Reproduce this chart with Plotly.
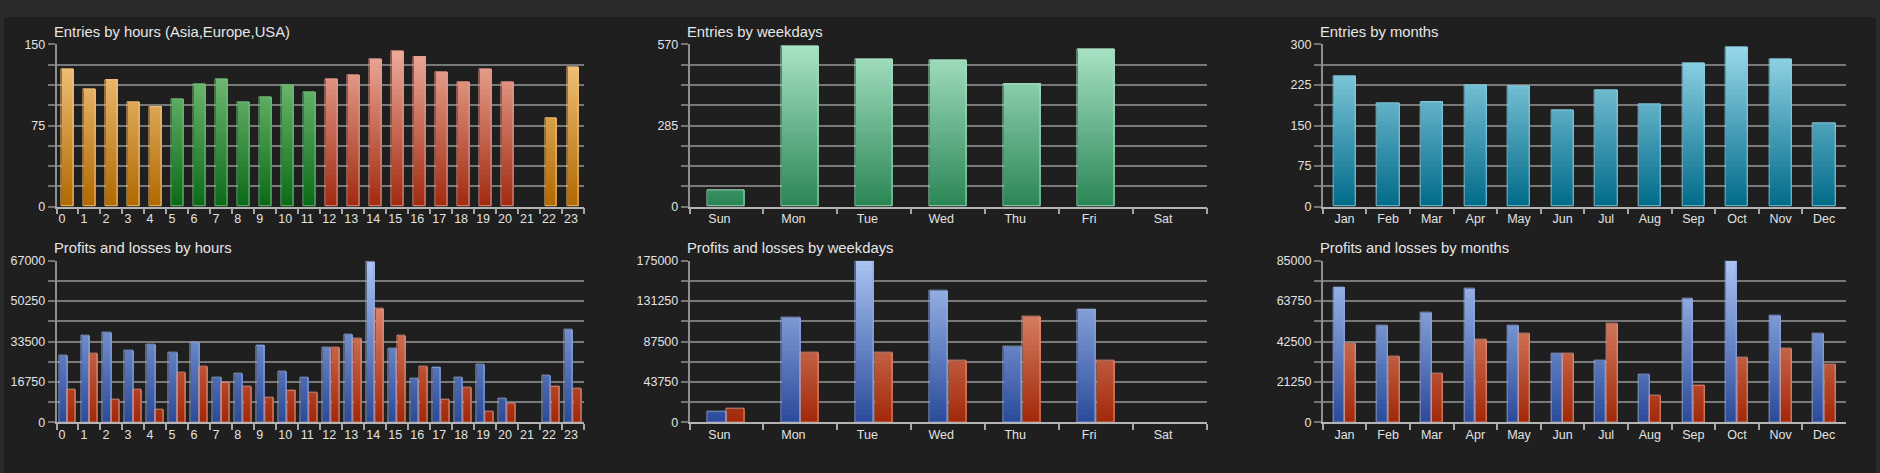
import plotly.graph_objects as go
from plotly.subplots import make_subplots

# ---- data ----
hour_labels = [f"{h}\u2007" if h < 10 else str(h) for h in range(24)]
hour_entries = [127, 108, 117, 96, 92, 99, 113, 118, 96, 101, 112, 106,
                118, 121, 136, 144, 138, 124, 115, 127, 115, 0, 82, 129]
hour_zone = (["asia"] * 5 + ["europe"] * 7 + ["usa"] * 9 + ["usa"] + ["asia"] * 2)
hour_entry_ticks = [0, 75, 150]

weekdays = ["Sun", "Mon", "Tue", "Wed", "Thu", "Fri", "Sat"]
weekday_entries = [58, 564, 517, 515, 430, 552, 0]
weekday_entry_ticks = [0, 285, 570]

months = ["Jan", "Feb", "Mar", "Apr", "May", "Jun",
          "Jul", "Aug", "Sep", "Oct", "Nov", "Dec"]
month_entries = [240, 191, 193, 224, 223, 179, 215, 190, 265, 295, 272, 154]
month_entry_ticks = [0, 75, 150, 225, 300]

hour_profits = [27500, 35800, 37000, 29500, 32000, 28700, 32900, 18400,
                20000, 31800, 21000, 18500, 30900, 36200, 66400, 30700,
                17900, 22800, 18400, 23700, 9700, 0, 19300, 38400]
hour_losses = [13400, 28400, 9300, 13500, 5100, 20400, 22900, 16400,
               14600, 10400, 13300, 12300, 30800, 34500, 47100, 36000,
               22900, 9300, 14500, 4600, 7600, 0, 14900, 14100]
hour_pl_ticks = [0, 16750, 33500, 50250, 67000]

weekday_profits = [11900, 112900, 174500, 142500, 81500, 122300, 0]
weekday_losses = [14400, 75800, 75800, 66400, 114700, 67100, 0]
weekday_pl_ticks = [0, 43750, 87500, 131250, 175000]

month_profits = [71000, 51000, 57500, 70500, 51000, 36100,
                 32400, 25100, 64900, 84800, 56300, 46800]
month_losses = [41200, 34700, 25600, 43300, 46400, 35900,
                51700, 13900, 19300, 34000, 38600, 30200]
month_pl_ticks = [0, 21250, 42500, 63750, 85000]

# gradient ramps (colour at axis bottom, colour at axis top)
RAMPS = {
    "asia": ("#b06800", "#f8cc88"),
    "europe": ("#0a6a18", "#88cc88"),
    "usa": ("#a02a10", "#f0b0a0"),
    "weekday": ("#2a8655", "#aae4c6"),
    "month": ("#006a88", "#9adaec"),
    "profit": ("#2a4a9a", "#aac4f2"),
    "loss": ("#a02808", "#f0a890"),
}
EDGES = {
    "asia": "#f2c27a", "europe": "#74bc7a", "usa": "#e4988a",
    "weekday": "#a4dcc0", "month": "#86cce2",
    "profit": "#8ea8e2", "loss": "#e8927c",
}


def _rgb(h):
    h = h.lstrip("#")
    return [int(h[i:i + 2], 16) for i in (0, 2, 4)]


def _mix(c0, c1, t):
    a, b = _rgb(c0), _rgb(c1)
    return "rgb({},{},{})".format(*[round(a[i] + (b[i] - a[i]) * t) for i in range(3)])


def add_gradient_bars(fig, row, col, x, y, kinds, ymax, width, offset, bands=36):
    """bars shaded by height on the axis, drawn as overlapping bands"""
    for k in range(bands):
        lo = ymax * k / bands
        t = (k + 0.5) / bands
        fig.add_trace(go.Bar(
            x=x, y=[max(v - lo, 0) for v in y], base=lo,
            width=width, offset=offset,
            marker=dict(color=[_mix(*RAMPS[kd], t) for kd in kinds], line_width=0),
            hoverinfo="skip", showlegend=False,
        ), row=row, col=col)
    # thin light outline, none for empty slots
    fig.add_trace(go.Bar(
        x=x, y=y, width=width, offset=offset,
        marker=dict(color="rgba(0,0,0,0)",
                    line=dict(color=[EDGES[kd] for kd in kinds],
                              width=[1 if v > 0 else 0 for v in y])),
        showlegend=False,
    ), row=row, col=col)


W, H = 1880, 473
fig = make_subplots(rows=2, cols=3)

add_gradient_bars(fig, 1, 1, hour_labels, hour_entries, hour_zone, 150, 0.54, -0.27)
add_gradient_bars(fig, 1, 2, weekdays, weekday_entries, ["weekday"] * 7, 570, 0.5, -0.25)
add_gradient_bars(fig, 1, 3, months, month_entries, ["month"] * 12, 300, 0.51, -0.255)

add_gradient_bars(fig, 2, 1, hour_labels, hour_profits, ["profit"] * 24, 67000, 0.37, -0.385)
add_gradient_bars(fig, 2, 1, hour_labels, hour_losses, ["loss"] * 24, 67000, 0.37, 0.015)
add_gradient_bars(fig, 2, 2, weekdays, weekday_profits, ["profit"] * 7, 175000, 0.245, -0.25)
add_gradient_bars(fig, 2, 2, weekdays, weekday_losses, ["loss"] * 7, 175000, 0.245, 0.005)
add_gradient_bars(fig, 2, 3, months, month_profits, ["profit"] * 12, 85000, 0.25, -0.255)
add_gradient_bars(fig, 2, 3, months, month_losses, ["loss"] * 12, 85000, 0.25, 0.005)

col_px = [(56.5, 584), (689.5, 1207), (1322.7, 1846)]
row_px = [(44.3, 206.7), (260.7, 422.3)]
titles = [["Entries by hours (Asia,Europe,USA)", "Entries by weekdays", "Entries by months"],
          ["Profits and losses by hours", "Profits and losses by weekdays",
           "Profits and losses by months"]]
ymaxes = [[150, 570, 300], [67000, 175000, 85000]]
tick_sets = [[hour_entry_ticks, weekday_entry_ticks, month_entry_ticks],
             [hour_pl_ticks, weekday_pl_ticks, month_pl_ticks]]
label_shift = [-2, -7, 0]
ncats = [24, 7, 12]

font = "Liberation Sans, Arial, sans-serif"
annotations = []
for r in range(2):
    y0, y1 = row_px[r]
    for c in range(3):
        x0, x1 = col_px[c]
        ymax = ymaxes[r][c]
        grid = [ymax * i / 8 for i in range(9)]
        labels = [str(int(v)) if v in tick_sets[r][c] else "" for v in grid]
        fig.update_xaxes(
            domain=[x0 / W, x1 / W], type="category", range=[-0.5, ncats[c] - 0.5],
            tickson="boundaries", ticks="outside", ticklen=6, tickwidth=1.5,
            tickcolor="#a6a6a6", showline=True, linecolor="#b4b4b4", linewidth=1.5,
            showgrid=False, ticklabelshift=label_shift[c], tickangle=0,
            tickfont=dict(size=12.5, color="#e2e2e2"), fixedrange=True, automargin=False,
            row=r + 1, col=c + 1)
        fig.update_yaxes(
            domain=[1 - y1 / H, 1 - y0 / H], range=[0, ymax],
            tickmode="array", tickvals=grid, ticktext=labels,
            ticks="outside", ticklen=7, tickwidth=1.5, tickcolor="#747474",
            showgrid=True, gridcolor="#787878", gridwidth=1.5, zeroline=False,
            showline=True, linecolor="#8e8e8e", linewidth=1.5,
            tickfont=dict(size=12.5, color="#e2e2e2"), fixedrange=True, automargin=False,
            row=r + 1, col=c + 1)
        annotations.append(dict(
            text=titles[r][c], xref="paper", yref="paper",
            x=(x0 - 5) / W, y=1 - (y0 - 12.5) / H, xanchor="left", yanchor="middle",
            showarrow=False, font=dict(size=14.8, color="#e6e6e6", family=font)))

fig.update_layout(
    width=W, height=H, margin=dict(l=0, r=0, t=0, b=0, pad=0),
    barmode="overlay", bargap=0,
    paper_bgcolor="#2a2a2a", plot_bgcolor="rgba(0,0,0,0)",
    font=dict(family=font, color="#e2e2e2"),
    annotations=annotations,
    shapes=[dict(type="rect", xref="paper", yref="paper", layer="below",
                 x0=4 / W, x1=1876 / W, y0=0, y1=1 - 17 / H,
                 fillcolor="#1f1f1f", line_width=0)],
    showlegend=False,
)

# pin the figure to the top-left corner of the page
pin = ("document.body.style.margin='0';"
       "document.body.style.background='#2a2a2a';"
       "document.documentElement.style.overflow='hidden';"
       "var d=document.getElementById('{plot_id}');"
       "d.style.position='fixed';d.style.top='0';d.style.left='0';")
fig.write_html("out.html", config={"displayModeBar": False}, post_script=pin)
